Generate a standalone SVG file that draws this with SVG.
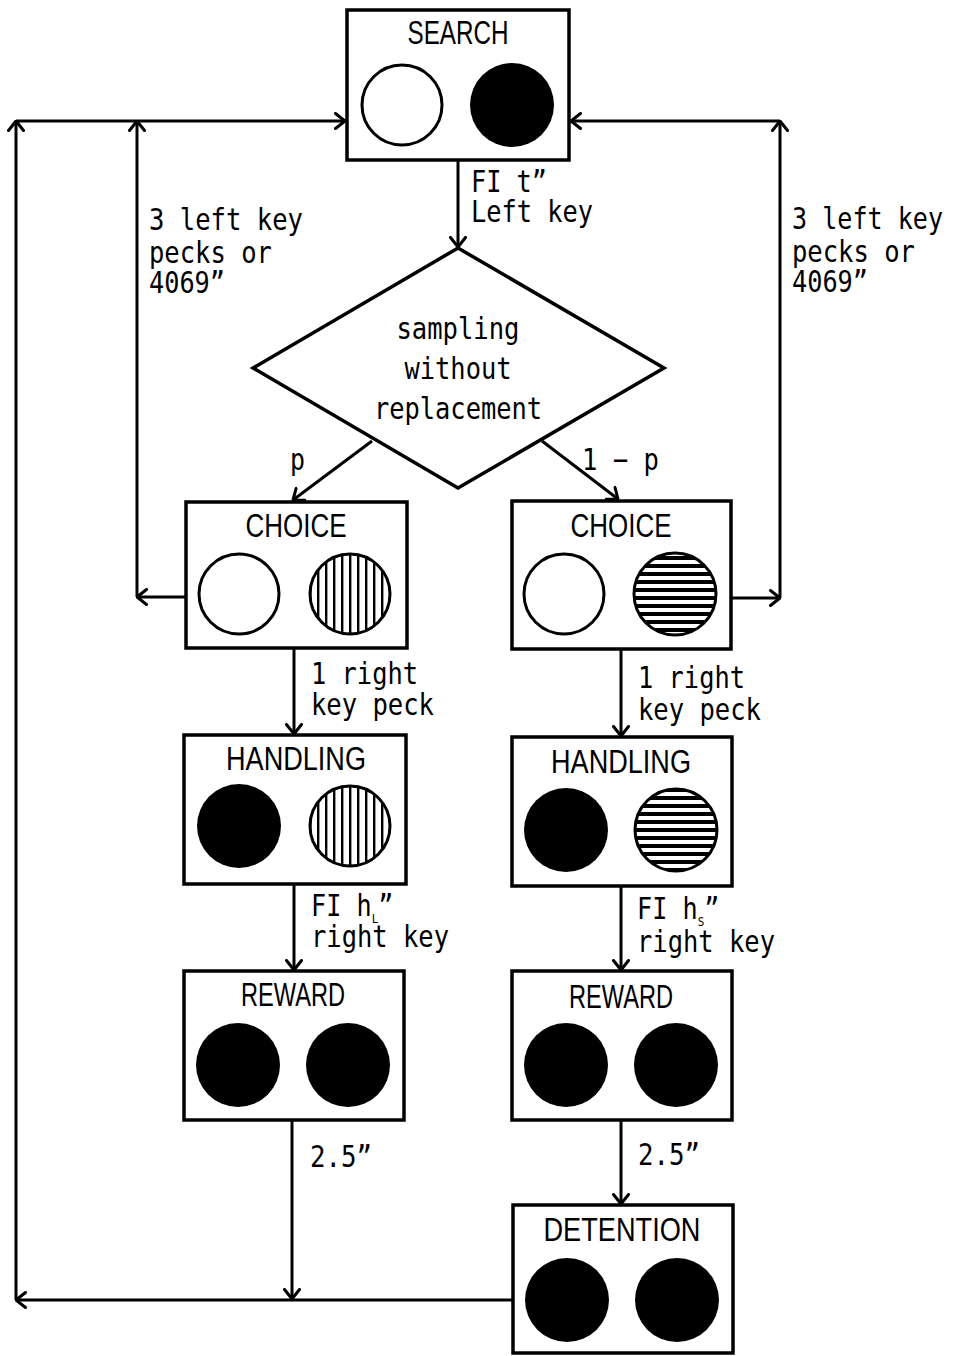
<svg xmlns="http://www.w3.org/2000/svg" width="953" height="1356" viewBox="0 0 953 1356">
  <style>
    .box { fill: #fff; stroke: #000; stroke-width: 3.5; }
    .key { stroke: #000; stroke-width: 3; }
    .off { fill: #fff; }
    .on { fill: #000; }
    .vh { fill: url(#vhatch); }
    .hh { fill: url(#hhatch); }
    .title { font-family: "Liberation Sans", Arial, sans-serif; font-size: 34px; text-anchor: middle; fill: #000; }
    .lbl { font-family: "DejaVu Sans Mono", "Liberation Mono", monospace; font-size: 30px; fill: #000; }
    .mid { text-anchor: middle; }
    .sub { font-size: 13px; }
    .conn { fill: none; stroke: #000; stroke-width: 3; marker-end: url(#arrow); }
  </style>
  <defs>
    <marker id="arrow" viewBox="0 0 12 18" refX="11" refY="9" markerWidth="12" markerHeight="18" markerUnits="userSpaceOnUse" orient="auto">
      <path d="M1.5,1.5 L11,9 L1.5,16.5" fill="none" stroke="#000" stroke-width="3" stroke-linecap="round" stroke-linejoin="round"/>
    </marker>
    <pattern id="vhatch" patternUnits="userSpaceOnUse" width="8" height="8" x="2">
      <rect width="8" height="8" fill="#fff"/>
      <rect x="3" y="0" width="2.4" height="8" fill="#000"/>
    </pattern>
    <pattern id="hhatch" patternUnits="userSpaceOnUse" width="8" height="8" y="2">
      <rect width="8" height="8" fill="#fff"/>
      <rect x="0" y="2" width="8" height="4" fill="#000"/>
    </pattern>
  </defs>

  <!-- connectors -->
  <g id="connectors">
    <path class="conn" d="M458,160 L458,247"/>
    <path class="conn" d="M372,441 L293,500"/>
    <path class="conn" d="M542,441 L618,499"/>
    <path class="conn" d="M294,648 L294,734"/>
    <path class="conn" d="M621,649 L621,736"/>
    <path class="conn" d="M294,884 L294,970"/>
    <path class="conn" d="M621,886 L621,970"/>
    <path class="conn" d="M292,1120 L292,1299"/>
    <path class="conn" d="M621,1120 L621,1204"/>
    <!-- return loops on the left -->
    <path class="conn" d="M186,597 L137,597"/>
    <path class="conn" d="M137,597 L137,121"/>
    <path class="conn" d="M16,121 L345,121"/>
    <path class="conn" d="M512,1300 L16,1300"/>
    <path class="conn" d="M16,1300 L16,121"/>
    <!-- return loop on the right -->
    <path class="conn" d="M731,598 L780,598"/>
    <path class="conn" d="M780,598 L780,121"/>
    <path class="conn" d="M780,121 L571,121"/>
  </g>

  <!-- connector labels -->
  <g id="labels">
    <text class="lbl" x="471" y="192" textLength="76" lengthAdjust="spacingAndGlyphs">FI t”</text>
    <text class="lbl" x="471" y="222" textLength="122" lengthAdjust="spacingAndGlyphs">Left key</text>
    <text class="lbl" x="149" y="230" textLength="154" lengthAdjust="spacingAndGlyphs">3 left key</text>
    <text class="lbl" x="149" y="263" textLength="123" lengthAdjust="spacingAndGlyphs">pecks or</text>
    <text class="lbl" x="149" y="293" textLength="76" lengthAdjust="spacingAndGlyphs">4069”</text>
    <text class="lbl" x="792" y="229" textLength="151" lengthAdjust="spacingAndGlyphs">3 left key</text>
    <text class="lbl" x="792" y="262" textLength="123" lengthAdjust="spacingAndGlyphs">pecks or</text>
    <text class="lbl" x="792" y="292" textLength="76" lengthAdjust="spacingAndGlyphs">4069”</text>
    <text class="lbl" x="290" y="470" textLength="15" lengthAdjust="spacingAndGlyphs">p</text>
    <text class="lbl" x="582" y="470" textLength="77" lengthAdjust="spacingAndGlyphs">1 − p</text>
    <text class="lbl" x="311" y="684" textLength="107" lengthAdjust="spacingAndGlyphs">1 right</text>
    <text class="lbl" x="311" y="715" textLength="123" lengthAdjust="spacingAndGlyphs">key peck</text>
    <text class="lbl" x="638" y="688" textLength="107" lengthAdjust="spacingAndGlyphs">1 right</text>
    <text class="lbl" x="638" y="720" textLength="123" lengthAdjust="spacingAndGlyphs">key peck</text>
    <text class="lbl" transform="translate(311,916) scale(0.84,1)">FI h<tspan class="sub" dy="7">L</tspan><tspan dy="-7">”</tspan></text>
    <text class="lbl" x="311" y="947" textLength="138" lengthAdjust="spacingAndGlyphs">right key</text>
    <text class="lbl" transform="translate(637,919) scale(0.84,1)">FI h<tspan class="sub" dy="7">S</tspan><tspan dy="-7">”</tspan></text>
    <text class="lbl" x="637" y="952" textLength="138" lengthAdjust="spacingAndGlyphs">right key</text>
    <text class="lbl" x="310" y="1167" textLength="62" lengthAdjust="spacingAndGlyphs">2.5”</text>
    <text class="lbl" x="638" y="1165" textLength="62" lengthAdjust="spacingAndGlyphs">2.5”</text>
  </g>

  <!-- nodes -->
  <g id="search">
    <rect class="box" x="347" y="10" width="222" height="150"/>
    <text class="title" x="458" y="44" textLength="101" lengthAdjust="spacingAndGlyphs">SEARCH</text>
    <circle class="key off" cx="402" cy="105" r="40"/>
    <circle class="on" cx="512" cy="105" r="42"/>
  </g>

  <g id="sampling">
    <polygon points="458,248 664,368 458,488 253,368" fill="#fff" stroke="#000" stroke-width="3.5" stroke-linejoin="miter"/>
    <text class="lbl mid" x="458" y="339" textLength="123" lengthAdjust="spacingAndGlyphs">sampling</text>
    <text class="lbl mid" x="458" y="379" textLength="107" lengthAdjust="spacingAndGlyphs">without</text>
    <text class="lbl mid" x="458" y="419" textLength="168" lengthAdjust="spacingAndGlyphs">replacement</text>
  </g>

  <g id="choice-left">
    <rect class="box" x="186" y="502" width="221" height="146"/>
    <text class="title" x="296" y="537" textLength="101" lengthAdjust="spacingAndGlyphs">CHOICE</text>
    <circle class="key off" cx="239" cy="594" r="40"/>
    <circle class="key vh" cx="350" cy="594" r="40"/>
  </g>

  <g id="choice-right">
    <rect class="box" x="512" y="501" width="219" height="148"/>
    <text class="title" x="621" y="537" textLength="101" lengthAdjust="spacingAndGlyphs">CHOICE</text>
    <circle class="key off" cx="564" cy="594" r="40"/>
    <circle class="key hh" cx="675" cy="594" r="41"/>
  </g>

  <g id="handling-left">
    <rect class="box" x="184" y="735" width="222" height="149"/>
    <text class="title" x="296" y="770" textLength="140" lengthAdjust="spacingAndGlyphs">HANDLING</text>
    <circle class="on" cx="239" cy="826" r="42"/>
    <circle class="key vh" cx="350" cy="826" r="40"/>
  </g>

  <g id="handling-right">
    <rect class="box" x="512" y="737" width="220" height="149"/>
    <text class="title" x="621" y="773" textLength="140" lengthAdjust="spacingAndGlyphs">HANDLING</text>
    <circle class="on" cx="566" cy="830" r="42"/>
    <circle class="key hh" cx="676" cy="830" r="41"/>
  </g>

  <g id="reward-left">
    <rect class="box" x="184" y="971" width="220" height="149"/>
    <text class="title" x="293" y="1006" textLength="104" lengthAdjust="spacingAndGlyphs">REWARD</text>
    <circle class="on" cx="238" cy="1065" r="42"/>
    <circle class="on" cx="348" cy="1065" r="42"/>
  </g>

  <g id="reward-right">
    <rect class="box" x="512" y="971" width="220" height="149"/>
    <text class="title" x="621" y="1008" textLength="104" lengthAdjust="spacingAndGlyphs">REWARD</text>
    <circle class="on" cx="566" cy="1065" r="42"/>
    <circle class="on" cx="676" cy="1065" r="42"/>
  </g>

  <g id="detention">
    <rect class="box" x="513" y="1205" width="220" height="148"/>
    <text class="title" x="622" y="1241" textLength="157" lengthAdjust="spacingAndGlyphs">DETENTION</text>
    <circle class="on" cx="567" cy="1300" r="42"/>
    <circle class="on" cx="677" cy="1300" r="42"/>
  </g>
</svg>
